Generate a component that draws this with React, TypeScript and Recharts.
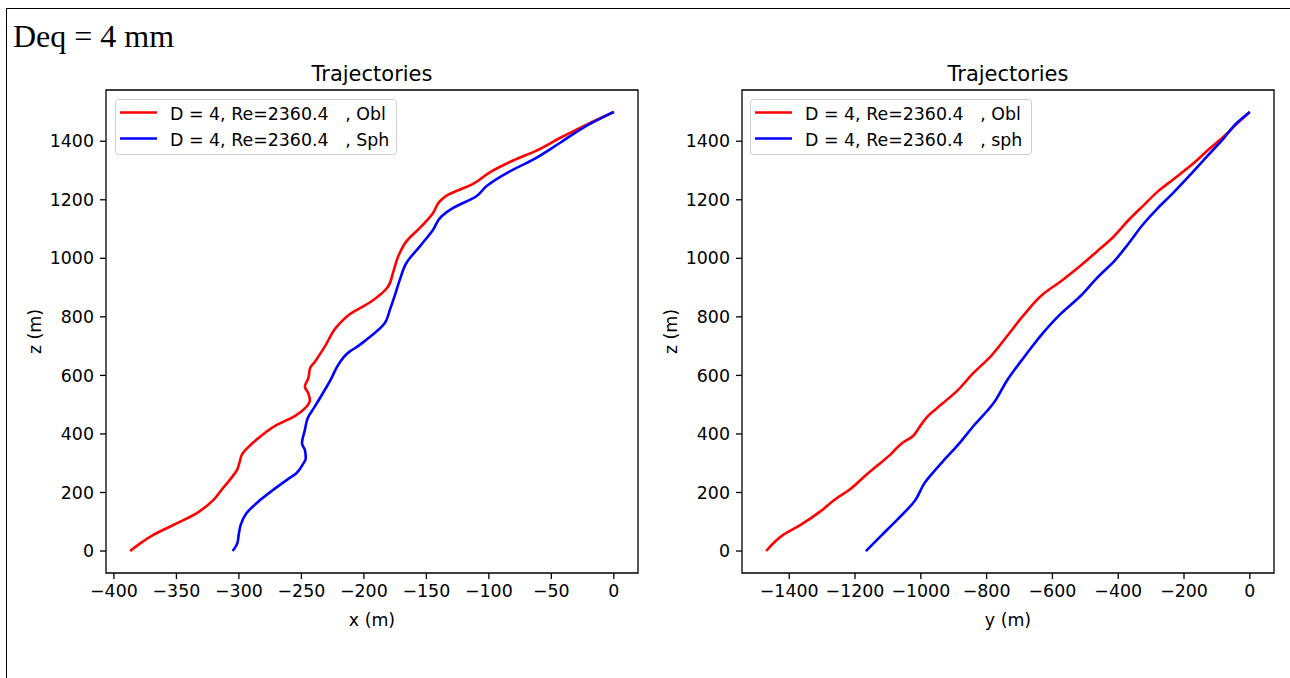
import { LineChart, Line, XAxis, YAxis, Legend, ReferenceArea } from 'recharts';

const FONT = '"DejaVu Sans", sans-serif';
const RED = '#ff0000';
const BLUE = '#0000ff';
const FS = 17.4;

// left panel: horizontal drift x against height z
const oblZ = [0, 26, 55, 89, 129, 174, 214, 250, 277, 300, 330, 380, 428, 462, 488, 516, 539, 562, 590, 625, 647, 699, 765, 810, 850, 901, 952, 1012, 1058, 1104, 1155, 1195, 1214, 1254, 1294, 1334, 1368, 1411, 1451, 1500];
const oblX = [-387, -379, -368.5, -352.5, -334, -320.5, -313, -306, -301.5, -299.7, -297.5, -286, -271, -255, -247, -243.2, -244.5, -247.2, -244.5, -243, -239.2, -231.2, -222, -211, -195, -181, -176.6, -172, -166, -155.2, -144.6, -139.2, -133.8, -112.6, -99.2, -80.6, -61.9, -43.2, -24.6, 0];

const sphZ = [0, 26, 60, 90, 129, 174, 214, 245, 266, 295, 317, 345, 368, 414, 454, 494, 551, 590, 625, 682, 699, 722, 779, 824, 870, 927, 984, 1041, 1098, 1143, 1172, 1212, 1246, 1297, 1337, 1394, 1446, 1500];
const sphX = [-305, -301.3, -300, -298.5, -294, -283, -271, -261, -254, -249, -246.5, -247.2, -249.5, -247.2, -245, -239.2, -231.2, -226, -222, -211.2, -205, -198, -183.2, -179.2, -175.5, -171.2, -166, -155.2, -144.6, -138, -128.6, -110, -102, -83.2, -64.6, -43.2, -24.6, 0];

// right panel: horizontal drift y against height z
const oblYZ = [0, 58, 87, 138, 172, 212, 258, 292, 332, 366, 394, 417, 457, 502, 548, 605, 667, 731, 805, 879, 921, 976, 1021, 1073, 1130, 1181, 1227, 1272, 1323, 1375, 1415, 1460, 1500];
const oblY = [-1470, -1415, -1369, -1302, -1266, -1214, -1168, -1132, -1090, -1060, -1023, -1008, -982, -936, -889, -843, -786, -740, -688, -627, -575, -513, -467, -415, -369, -323, -281, -230, -173, -122, -80, -39, 0];

const sphYZ = [0, 52, 109, 172, 235, 263, 309, 360, 423, 502, 588, 667, 747, 810, 873, 930, 993, 1050, 1118, 1170, 1221, 1283, 1346, 1409, 1463, 1500];
const sphY = [-1167, -1121, -1070, -1018, -987, -967, -931, -889, -843, -781, -735, -683, -627, -575, -513, -467, -410, -369, -323, -281, -235, -183, -132, -80, -39, 0];

const zTicks = [0, 200, 400, 600, 800, 1000, 1200, 1400];
const xTicks = [-400, -350, -300, -250, -200, -150, -100, -50, 0];
const yTicks = [-1400, -1200, -1000, -800, -600, -400, -200, 0];

const zDomain: [number, number] = [-75, 1575];
const xDomain: [number, number] = [-406.35, 19.35];
const yDomain: [number, number] = [-1543.5, 73.5];

const toPoints = (h: number[], z: number[]) => h.map((v, i) => ({ h: v, z: z[i] }));

const fmt = (v: number) => (v < 0 ? `\u2212${Math.abs(v)}` : `${v}`);

const tickStyle = { fontSize: FS, fill: '#000', fontFamily: FONT };

function LegendBox({ payload }: any) {
  const items = payload ?? [];
  return (
    <svg width={282} height={56} style={{ display: 'block' }}>
      <rect x={0.5} y={0.5} width={281} height={55} rx={3} fill="rgba(255,255,255,0.8)" stroke="#cccccc" />
      {items.map((it: any, i: number) => (
        <g key={i}>
          <line x1={5} x2={42} y1={13.5 + 26 * i} y2={13.5 + 26 * i} stroke={it.color} strokeWidth={2.6} />
          <text
            x={55}
            y={21 + 26 * i}
            fontSize={FS}
            fontFamily={FONT}
            fill="#000"
            xmlSpace="preserve"
            style={{ whiteSpace: 'pre' }}
          >
            {it.value}
          </text>
        </g>
      ))}
    </svg>
  );
}

interface PanelProps {
  left: number;
  marginLeft: number;
  marginRight: number;
  hDomain: [number, number];
  hTicks: number[];
  hLabel: string;
  obl: { h: number; z: number }[];
  sph: { h: number; z: number }[];
  sphName: string;
  legendLeft: number;
}

function Panel({ left, marginLeft, marginRight, hDomain, hTicks, hLabel, obl, sph, sphName, legendLeft }: PanelProps) {
  const width = 645;
  const height = 678;
  const yAxisWidth = 86;
  const plotLeft = marginLeft + yAxisWidth;
  const plotWidth = width - plotLeft - marginRight;
  return (
    <div style={{ position: 'absolute', left, top: 0 }}>
      <LineChart width={width} height={height} margin={{ top: 90, right: marginRight, bottom: 45, left: marginLeft }}>
        <XAxis
          type="number"
          dataKey="h"
          domain={hDomain}
          allowDataOverflow
          ticks={hTicks}
          interval={0}
          tickFormatter={fmt}
          tick={tickStyle}
          tickSize={6}
          tickMargin={6}
          tickLine={{ stroke: '#000', strokeWidth: 1.3 }}
          axisLine={false}
          height={60}
          label={{ value: hLabel, position: 'insideBottom', offset: 7, style: { fontSize: FS, fill: '#000', fontFamily: FONT } }}
        />
        <YAxis
          type="number"
          dataKey="z"
          domain={zDomain}
          allowDataOverflow
          ticks={zTicks}
          interval={0}
          tickFormatter={fmt}
          tick={tickStyle}
          tickSize={6}
          tickMargin={6}
          tickLine={{ stroke: '#000', strokeWidth: 1.3 }}
          axisLine={false}
          width={yAxisWidth}
          label={{
            value: 'z (m)',
            angle: -90,
            position: 'insideLeft',
            offset: 15,
            style: { textAnchor: 'middle', fontSize: FS, fill: '#000', fontFamily: FONT },
          }}
        />
        <ReferenceArea
          x1={hDomain[0]}
          x2={hDomain[1]}
          y1={zDomain[0]}
          y2={zDomain[1]}
          fill="none"
          stroke="#000"
          strokeWidth={1.3}
          ifOverflow="visible"
        />
        <Line
          data={obl}
          dataKey="z"
          name="D = 4, Re=2360.4   , Obl"
          stroke={RED}
          strokeWidth={2.6}
          dot={false}
          activeDot={false}
          type="monotoneY"
          isAnimationActive={false}
        />
        <Line
          data={sph}
          dataKey="z"
          name={`D = 4, Re=2360.4   , ${sphName}`}
          stroke={BLUE}
          strokeWidth={2.6}
          dot={false}
          activeDot={false}
          type="monotoneY"
          isAnimationActive={false}
        />
        <Legend
          layout="horizontal"
          verticalAlign="middle"
          align="center"
          content={<LegendBox />}
          wrapperStyle={{ left: legendLeft, top: 99, width: 282, height: 56, lineHeight: 0 }}
        />
        <text x={plotLeft + plotWidth / 2} y={80.5} textAnchor="middle" fontSize={21} fontFamily={FONT} fill="#000">
          Trajectories
        </text>
      </LineChart>
    </div>
  );
}

export default function App() {
  return (
    <div
      style={{
        position: 'absolute',
        left: 0,
        top: 0,
        width: 1290,
        height: 678,
        background: '#fff',
        overflow: 'hidden',
      }}
    >
      <div
        style={{
          position: 'absolute',
          left: 6,
          top: 8,
          width: 1300,
          height: 700,
          borderTop: '1px solid #000',
          borderLeft: '1px solid #000',
        }}
      />
      <div
        style={{
          position: 'absolute',
          left: 13,
          top: 20,
          fontFamily: '"Liberation Serif", serif',
          fontSize: 32,
          lineHeight: '32px',
          color: '#000',
          whiteSpace: 'nowrap',
        }}
      >
        Deq = 4 mm
      </div>
      <Panel
        left={0}
        marginLeft={20}
        marginRight={7}
        hDomain={xDomain}
        hTicks={xTicks}
        hLabel="x (m)"
        obl={toPoints(oblX, oblZ)}
        sph={toPoints(sphX, sphZ)}
        sphName="Sph"
        legendLeft={115}
      />
      <Panel
        left={645}
        marginLeft={11}
        marginRight={16}
        hDomain={yDomain}
        hTicks={yTicks}
        hLabel="y (m)"
        obl={toPoints(oblY, oblYZ)}
        sph={toPoints(sphY, sphYZ)}
        sphName="sph"
        legendLeft={105}
      />
    </div>
  );
}
